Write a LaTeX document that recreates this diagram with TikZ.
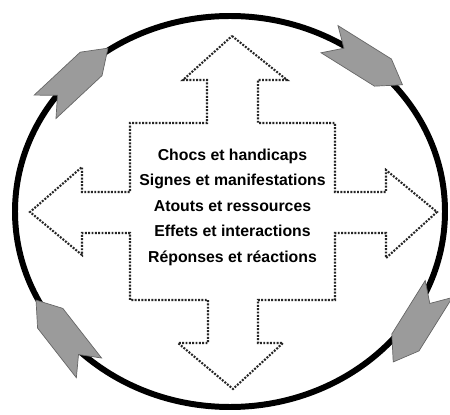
\documentclass[tikz,border=0pt]{standalone}
\usepackage{fontspec}
\setmainfont{Liberation Sans}
\usepackage{tikz}

\begin{document}
\begin{tikzpicture}[x=0.02cm, y=-0.02cm,
    ring/.style={line width=3.4pt, black},
    crossline/.style={line width=1.2pt, dash pattern=on 1.1pt off 0.8pt, black!85},
    chevron/.style={fill={rgb,255:red,155;green,155;blue,155}, draw=black!60, line width=0.4pt},
    every node/.style={font=\bfseries\fontsize{9}{14.5}\selectfont, align=center}]
\useasboundingbox (0,0) rectangle (450,415);
\draw[ring] (230,211.5) ellipse [x radius=215, y radius=195.5];
% gray heads on the ring
\foreach \cx/\cy/\rot in {76.5/77.5/43, 366/62/-32, 416/325.5/-122, 62.5/334/128} {
	\begin{scope}[shift={(\cx,\cy)}, rotate=\rot]
	\draw[chevron] (-43,-16) -- (20,-16) -- (43,0) -- (20,16) -- (-43,16) -- (-26,0) -- cycle;
	\end{scope}
}
% dotted cross with four heads
\draw[crossline] (232,36) -- (287,80) -- (258,80) -- (258,123) -- (335,123) -- (335,192)
	-- (386,192) -- (386,170) -- (437,212) -- (386,258) -- (386,233) -- (335,233)
	-- (335,300) -- (258,300) -- (258,343) -- (283,343) -- (233,389) -- (178,343)
	-- (208,343) -- (208,300) -- (130,300) -- (130,233) -- (82,233) -- (82,255)
	-- (30,212) -- (82,167) -- (82,192) -- (130,192) -- (130,123) -- (207,123)
	-- (207,80) -- (183,80) -- cycle;
\node (labels) at (232.5,207) {Chocs et handicaps\\Signes et manifestations\\Atouts et ressources\\Effets et interactions\\Réponses et réactions};
\end{tikzpicture}
\end{document}
